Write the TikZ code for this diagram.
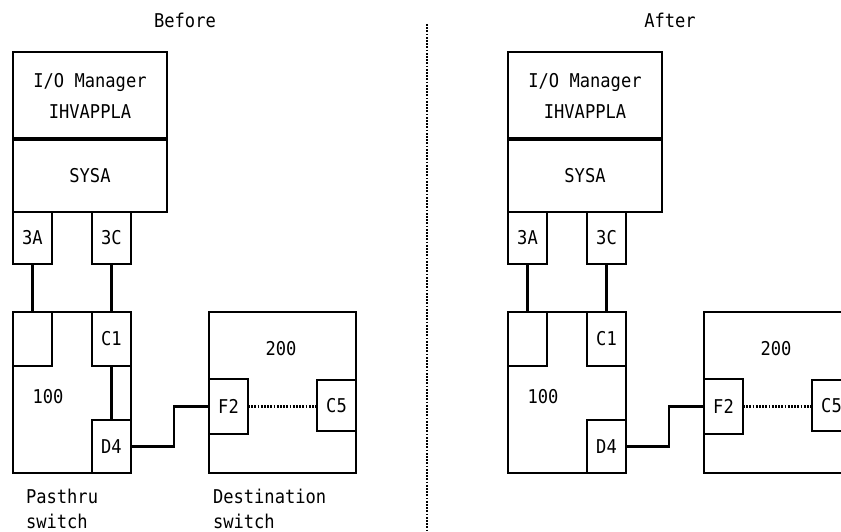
\documentclass[tikz,border=0pt]{standalone}
\usepackage{fontspec}
\newfontfamily\dmono[FakeStretch=0.9]{DejaVu Sans Mono}
\begin{document}
\begin{tikzpicture}[x=1pt,y=-1pt,
  every node/.style={font=\dmono\fontsize{19}{31}\selectfont, inner sep=0pt, outer sep=0pt},
  bigbox/.style={draw, rectangle, line width=2.4pt},
  port/.style={draw, rectangle, line width=2.8pt, minimum width=39pt},
  wire/.style={line width=2.1pt},
  dotline/.style={line width=2.2pt, dash pattern=on 1.8pt off 1.4pt},
  caption/.style={align=left, anchor=west, font=\dmono\fontsize{19}{25}\selectfont},
  divider/.style={line width=3.2pt}]
\useasboundingbox (0,0) rectangle (841,532);
\clip (0,0) rectangle (841,532);

% separator
\coordinate (septop) at (427,24);
\coordinate (sepbot) at (427,532);
\draw[line width=2.2pt, dash pattern=on 1.8pt off 1.4pt] (septop) -- (sepbot);

\node (before) at (185,20) {Before};
\node (after) at (670,20) {After};

\foreach \ox/\p/\link in {0/b/1, 495/a/0} {
  \begin{scope}[xshift=\ox]
  % host
  \node[bigbox, minimum width=154pt, minimum height=87pt, align=center] (\p mgr) at (90,95.5) {I/O Manager\\IHVAPPLA};
  \node[bigbox, minimum width=154pt, minimum height=73pt] (\p sysa) at (90,175.5) {SYSA};
  \draw[divider] (\p mgr.south west) -- (\p mgr.south east);
  \node[port, minimum height=52pt] (\p p3a) at (32.5,238) {3A};
  \node[port, minimum height=52pt] (\p p3c) at (111.5,238) {3C};
  % pasthru switch
  \node[bigbox, line width=2.2pt, minimum width=118pt, minimum height=161pt] (\p sw100) at (72,392.5) {};
  \node (\p l100) at (48,397) {100};
  \node[port, minimum height=54pt] (\p px) at (32.5,339) {};
  \node[port, minimum height=54pt] (\p c1) at (111.5,339) {C1};
  \node[port, minimum height=53pt] (\p d4) at (111.5,446.5) {D4};
  % destination switch
  \node[bigbox, minimum width=147pt, minimum height=161pt] (\p sw200) at (282.5,392.5) {};
  \node (\p l200) at (281,349) {200};
  \node[port, line width=2.4pt, minimum height=55pt] (\p f2) at (228.5,406.5) {F2};
  \node[port, line width=2.4pt, minimum height=51pt] (\p c5) at (336.5,405.5) {C5};
  % connectors
  \draw[wire] (\p p3a.south) -- (\p px.north);
  \draw[wire] (\p p3c.south) -- (\p c1.north);
  \ifnum\link=1 \draw[wire] (\p c1.south) -- (\p d4.north); \fi
  \draw[wire] (\p d4.east) -- ++(43,0) |- (\p f2.west);
  \draw[dotline] (\p f2.east) -- (\p f2.east -| \p c5.west);
  \end{scope}
}

\node[caption] (pasthru) at (26,508.5) {Pasthru\\switch};
\node[caption] (dest) at (213,508.5) {Destination\\switch};
\end{tikzpicture}
\end{document}
